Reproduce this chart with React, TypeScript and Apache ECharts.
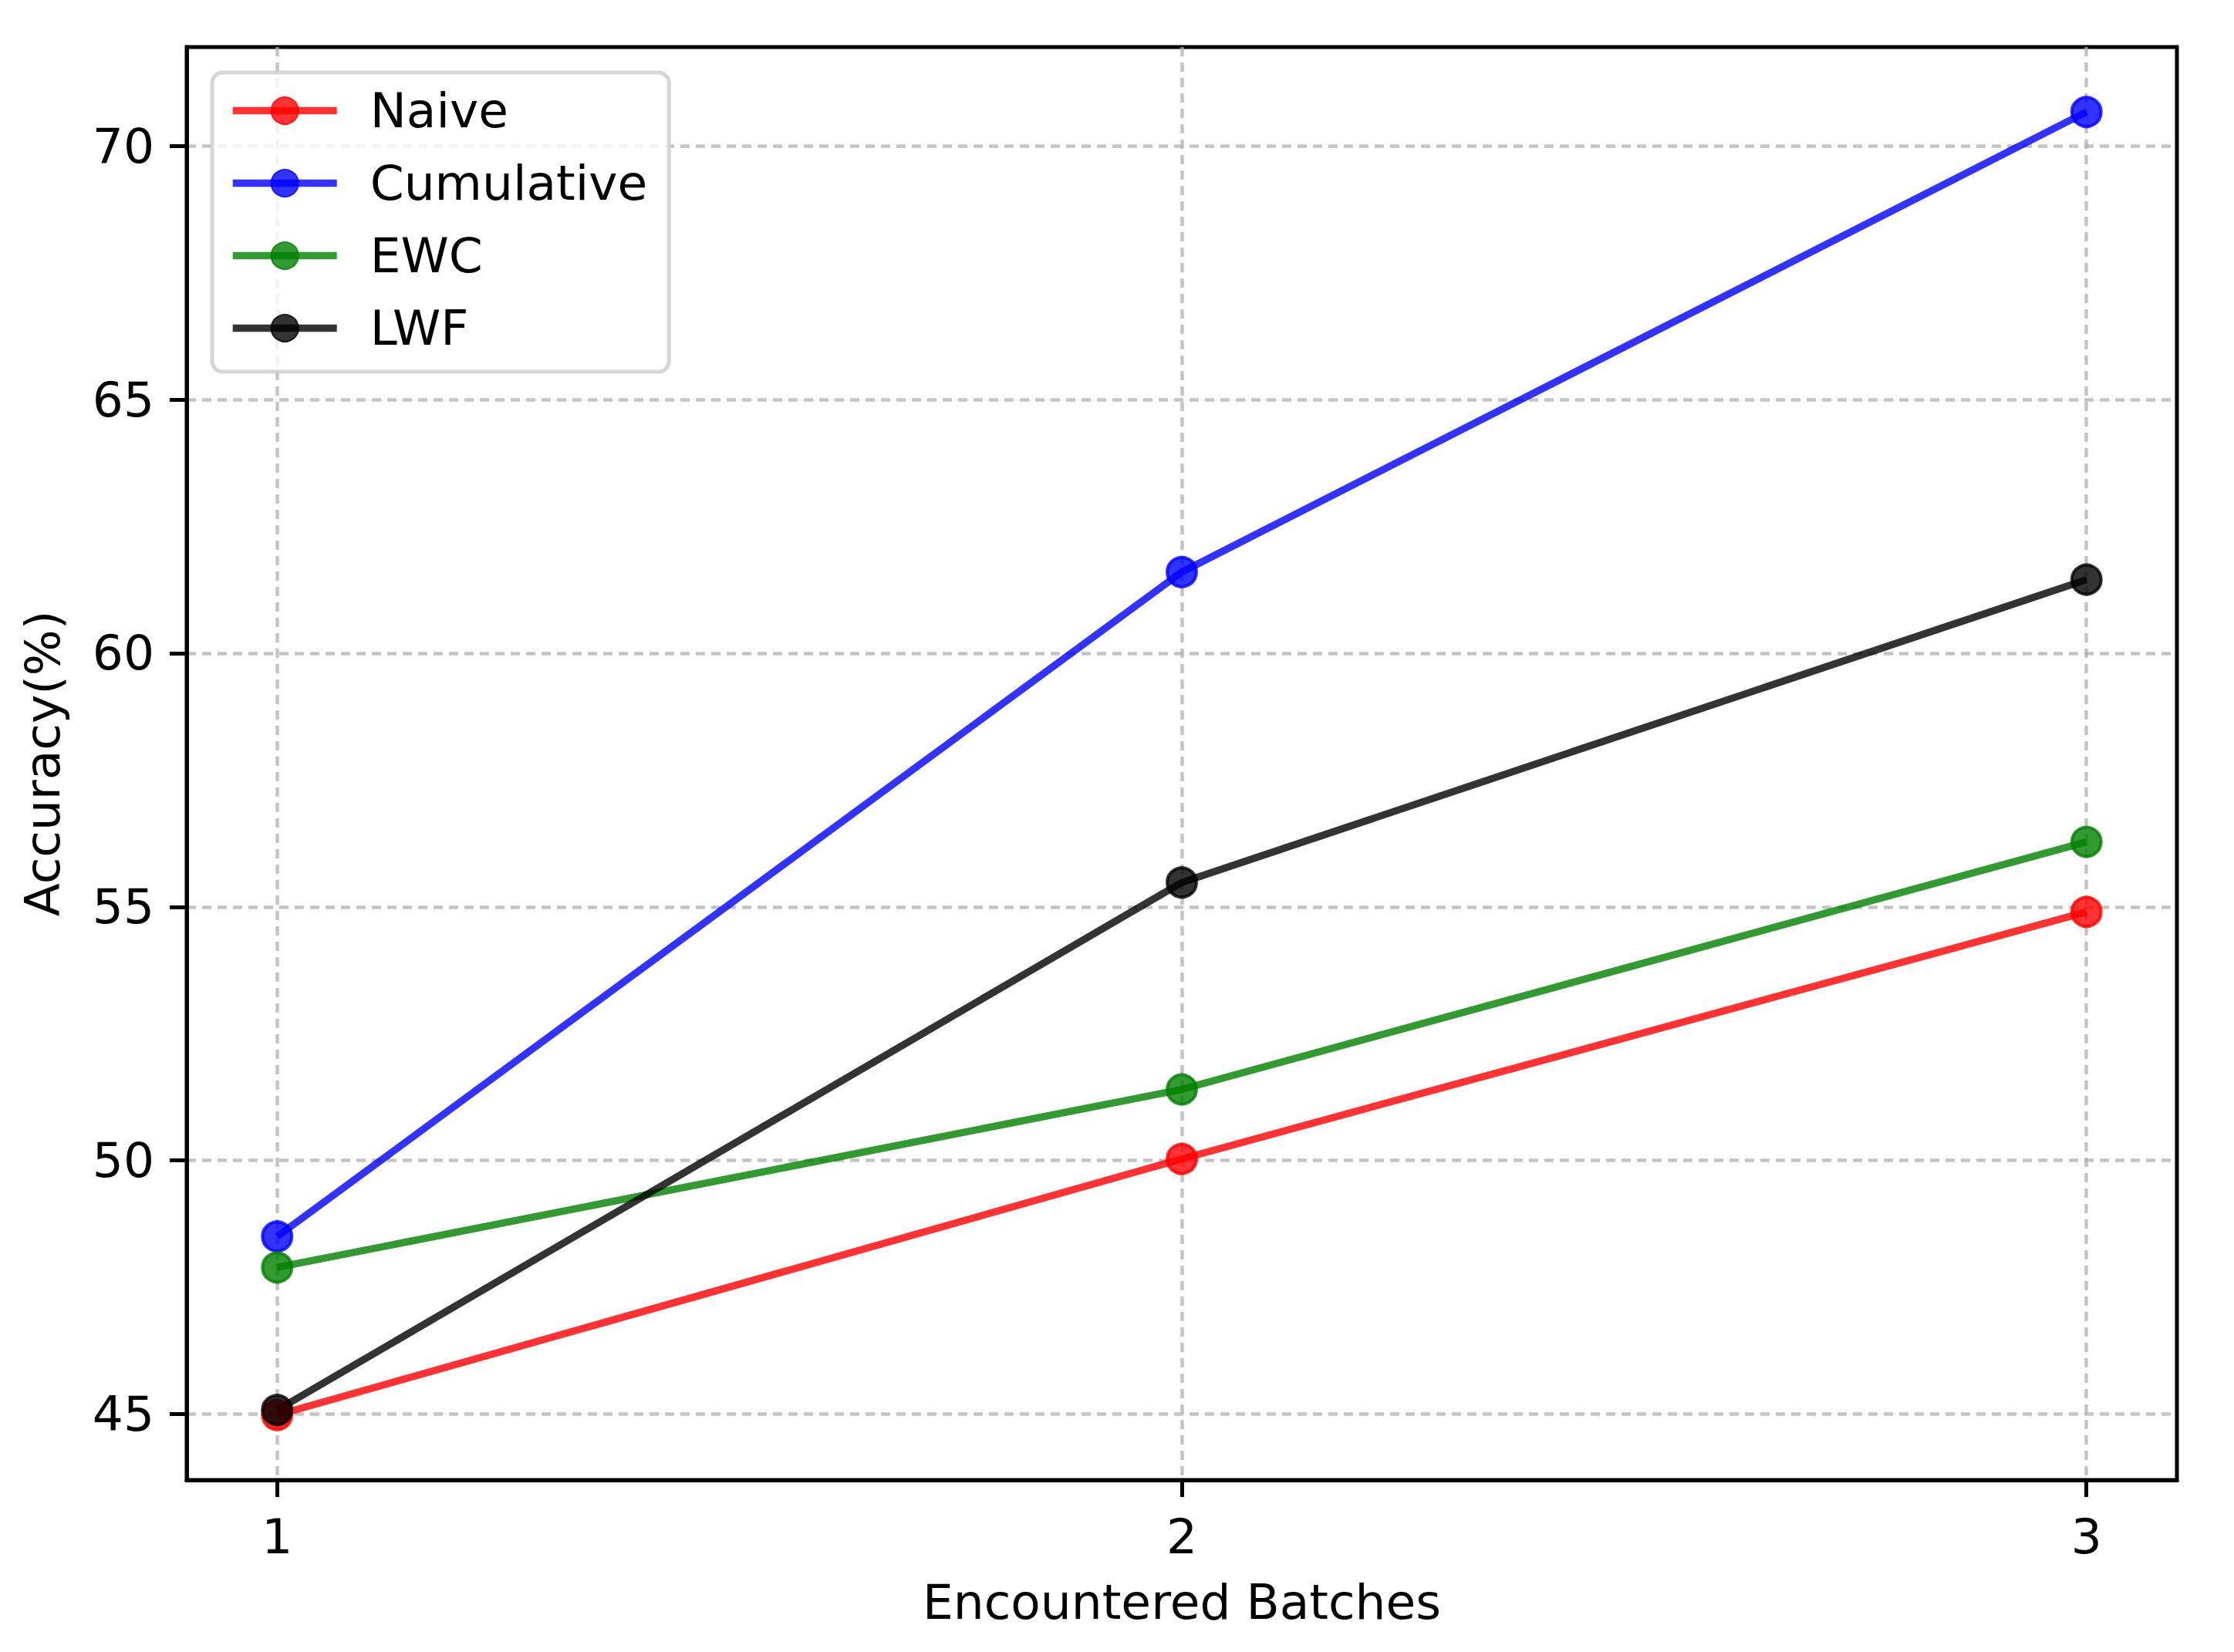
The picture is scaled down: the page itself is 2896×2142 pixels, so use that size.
import React, { useEffect, useRef } from "react";
import * as echarts from "echarts";

const batches = [1, 2, 3];
const naive = [44.98, 50.03, 54.9];
const cumulative = [48.5, 61.6, 70.67];
const ewc = [47.89, 51.4, 56.28];
const lwf = [45.08, 55.48, 61.45];
const yTicks = [45, 50, 55, 60, 65, 70];
const xTicks = [1, 2, 3];

const FONT = "DejaVu Sans";
const FS = 63;

function mk(name: string, values: number[], color: string) {
  return {
    name,
    type: "line",
    data: batches.map((b, i) => [b, values[i]]),
    symbol: "circle",
    symbolSize: 38,
    lineStyle: { color, width: 9.4 },
    itemStyle: { color, borderColor: color, borderWidth: 4 },
    emphasis: { disabled: true },
    z: 3,
  };
}

export default function App() {
  const ref = useRef<HTMLDivElement>(null);
  useEffect(() => {
    const chart = echarts.init(ref.current!, null, { renderer: "svg" });
    const axisLine = { show: true, onZero: false, lineStyle: { color: "#000", width: 5 } };
    const splitLine = { show: true, lineStyle: { color: "rgba(176,176,176,0.75)", width: 4.5, type: [12, 8] } };
    chart.setOption({
      animation: false,
      backgroundColor: "#fff",
      grid: { left: 242, top: 61, right: 74, bottom: 223, show: true, borderColor: "#000", borderWidth: 5, backgroundColor: "transparent" },
      legend: {
        left: 275,
        top: 94,
        orient: "vertical",
        padding: [18, 28, 25, 22],
        itemWidth: 135,
        itemHeight: 44,
        itemGap: 31,
        borderColor: "rgba(204,204,204,0.8)",
        borderWidth: 5,
        borderRadius: 14,
        backgroundColor: "rgba(255,255,255,0.8)",
        lineStyle: { width: 9.4 },
        textStyle: { fontFamily: FONT, fontSize: FS, color: "#000", lineHeight: 63, padding: [0, 0, 0, 38] },
        data: ["Naive", "Cumulative", "EWC", "LWF"],
      },
      xAxis: {
        type: "value",
        min: 0.9,
        max: 3.1,
        name: "Encountered Batches",
        nameLocation: "middle",
        nameGap: 127,
        nameTextStyle: { fontFamily: FONT, fontSize: FS, color: "#000" },
        axisLine,
        axisTick: { show: true, length: 22, lineStyle: { color: "#000", width: 5 }, customValues: xTicks },
        axisLabel: { fontFamily: FONT, fontSize: FS, color: "#000", margin: 42, customValues: xTicks, formatter: (v: number) => String(v) },
        splitLine,
      },
      yAxis: {
        type: "value",
        min: 43.7,
        max: 71.95,
        name: "Accuracy(%)",
        nameLocation: "middle",
        nameGap: 155,
        nameRotate: 90,
        nameTextStyle: { fontFamily: FONT, fontSize: FS, color: "#000" },
        axisLine,
        axisTick: { show: true, length: 22, lineStyle: { color: "#000", width: 5 }, customValues: yTicks },
        axisLabel: { fontFamily: FONT, fontSize: FS, color: "#000", margin: 42, customValues: yTicks, formatter: (v: number) => String(v) },
        splitLine,
      },
      series: [
        mk("Naive", naive, "rgba(255,0,0,0.8)"),
        mk("Cumulative", cumulative, "rgba(0,0,255,0.8)"),
        mk("EWC", ewc, "rgba(0,128,0,0.8)"),
        mk("LWF", lwf, "rgba(0,0,0,0.8)"),
      ],
    });
    return () => chart.dispose();
  }, []);
  return <div ref={ref} style={{ position: "fixed", left: 0, top: 0, width: 2896, height: 2142 }} />;
}
